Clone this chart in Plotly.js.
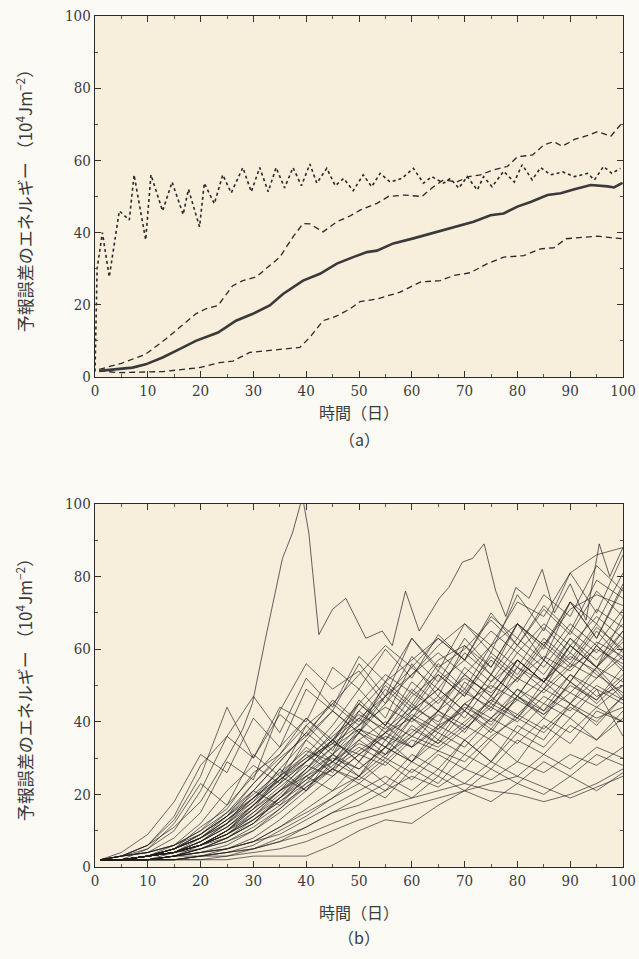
<!DOCTYPE html>
<html>
<head>
<meta charset="utf-8">
<script src="https://cdn.plot.ly/plotly-3.0.1.min.js"></script>
<style>
  html, body { margin: 0; padding: 0; background: #fbfaf5; }
  #chart { width: 639px; height: 959px; }
</style>
</head>
<body>
<div id="chart"></div>
<script>
// ---------- Panel (a) ----------
const meanX = [0.8, 7.1, 9.6, 12.8, 16, 19.1, 23.3, 26.7, 29.9, 33.1, 35.6, 39.4, 42.6, 45.8, 48.9, 51.5, 53.4, 56.5, 60.3, 63.5, 66.7, 69.2, 71.7, 74.9, 77.4, 80, 82.5, 85.7, 88.2, 90.8, 93.9, 97.1, 98.3, 99.9];
const meanY = [1.7, 2.6, 3.5, 5.4, 7.7, 10, 12.3, 15.6, 17.5, 19.8, 23, 26.7, 28.6, 31.4, 33.2, 34.6, 35, 37, 38.4, 39.7, 41.1, 42, 43, 44.8, 45.3, 47.2, 48.5, 50.4, 50.9, 52, 53.2, 52.8, 52.5, 53.8];

const upperX = [0.8, 5, 9.6, 13.4, 16, 19.1, 21, 23.3, 26.1, 28, 30.5, 32.4, 35, 37.5, 39.4, 40.7, 43.2, 45.8, 48.3, 50.2, 53.4, 55.6, 58.6, 61.9, 64.1, 66, 68.5, 70.8, 73, 75.5, 78.1, 80, 82.9, 85, 86.9, 88.5, 90.8, 93.3, 95.2, 97.7, 99.6];
const upperY = [2.1, 3.8, 6.3, 10.5, 13.7, 17.5, 18.9, 19.8, 25.3, 26.7, 27.7, 30, 33.2, 38.8, 42.5, 42.4, 40.2, 43, 44.6, 46.2, 48.1, 50, 50.4, 50, 52.7, 54.6, 54, 55.5, 56, 57.4, 58.3, 61, 61.5, 64.3, 65.2, 63.9, 65.8, 66.9, 68, 66.7, 70];

const lowerX = [0.8, 4.6, 12.8, 19.8, 23.6, 26.1, 29.3, 32.4, 35.6, 38.8, 40.7, 43.2, 45.8, 48.3, 50.2, 53.4, 57.8, 59.7, 61.6, 65.4, 67.9, 71.1, 74.3, 77.4, 81.2, 84.4, 86.9, 89.2, 92.7, 95.2, 97.7, 99.9];
const lowerY = [1.7, 1.2, 1.5, 2.6, 4, 4.4, 6.8, 7.2, 7.7, 8.2, 11, 15.6, 16.9, 18.9, 20.9, 21.6, 23.5, 24.9, 26.3, 26.7, 28.1, 28.9, 31.4, 33.2, 33.6, 35.5, 35.8, 38.3, 38.6, 39, 38.6, 38.3];

const dotX = [0, 0.4, 1.4, 2.7, 4.6, 6.5, 7.4, 9.6, 10.6, 12.8, 14.6, 16.7, 17.7, 19.8, 20.7, 22.6, 24.2, 25.8, 28, 29.6, 31.2, 32.8, 34.3, 35.9, 37.5, 39.1, 40.7, 42, 43.9, 45.5, 47.1, 48.9, 50.8, 52.4, 54, 55.9, 58.1, 60.3, 62.2, 63.8, 66, 67.3, 68.9, 70.5, 72.4, 73.6, 75.2, 77.4, 79.4, 80.9, 82.8, 84.4, 86.3, 88.6, 90.8, 93.3, 94.6, 96.3, 97.9, 99.5];
const dotY = [1.5, 30, 40, 27.7, 46, 43.5, 56, 38, 56, 46, 54, 45, 52, 41.6, 53.7, 48, 56, 51, 58, 51.3, 58, 51.3, 58, 52.4, 58, 53, 59, 53.7, 57.8, 53, 55, 51.6, 56, 52.7, 56.4, 54, 55, 57.8, 53.7, 55.5, 53.7, 55, 52.3, 55.5, 51.8, 55.5, 52.7, 57, 54, 58.8, 54.6, 58, 56, 56.8, 55.5, 56.4, 54.6, 58.3, 56.4, 57.8];

// ---------- Panel (b): ensemble members ----------
const days = [1, 5, 10, 15, 20, 25, 30, 35, 40, 45, 50, 55, 60, 65, 70, 75, 80, 85, 90, 95, 100];
const members = [
  [2,3,6,14,28,36,30,44,40,55,49,60,52,64,57,70,61,72,65,79,74],
  [2,4,9,18,31,26,41,33,49,43,56,47,63,54,67,59,75,65,81,70,86],
  [2,3,5,10,21,36,47,37,52,44,58,51,63,55,60,68,61,71,64,76,69],
  [2,3,4,8,15,29,24,43,56,49,54,45,58,51,63,55,67,60,73,63,78],
  [2,2,5,12,23,17,31,25,39,32,45,39,51,45,53,47,57,51,61,55,63],
  [2,2,3,5,11,16,26,31,41,34,46,39,48,43,55,49,59,53,63,57,65],
  [2,2,3,6,12,21,28,23,35,29,38,33,43,49,43,53,47,57,51,61,54],
  [2,2,3,4,8,13,18,27,21,31,25,35,29,39,43,37,47,41,51,45,52],
  [2,2,3,5,9,14,23,31,39,45,39,49,43,53,47,59,53,63,57,67,59],
  [2,2,3,4,7,12,21,29,37,31,43,37,47,53,47,57,51,61,55,65,57],
  [2,2,2,3,6,10,16,25,33,27,37,31,41,35,45,39,49,43,53,47,50],
  [2,2,3,4,6,9,14,21,27,35,29,39,33,43,37,47,41,51,45,55,47],
  [2,2,3,5,8,14,21,17,25,21,29,23,31,27,35,29,37,33,41,35,43],
  [2,2,3,4,7,11,17,24,31,26,35,30,39,34,43,38,47,42,51,46,55],
  [2,2,3,5,9,15,23,30,36,43,37,51,45,56,49,61,55,66,59,71,66],
  [2,2,2,4,6,10,15,21,25,29,25,33,29,37,33,41,37,45,41,49,45],
  [2,2,3,4,6,10,17,25,31,39,49,41,56,47,61,53,67,57,73,63,77],
  [2,2,2,3,5,8,12,19,26,33,41,35,45,39,51,45,57,51,63,55,69],
  [2,2,3,5,8,12,19,25,21,27,23,29,24,31,27,35,29,39,34,43,40],
  [2,2,2,3,4,6,10,16,23,31,39,47,55,49,59,53,63,57,67,61,71],
  [2,2,2,3,4,5,8,13,19,25,31,37,43,49,43,53,47,57,51,61,55],
  [2,2,2,2,3,5,7,11,16,21,25,21,29,25,35,29,39,35,45,39,47],
  [2,2,2,3,4,5,7,11,15,19,23,19,27,23,31,27,35,31,39,35,41],
  [2,2,2,2,3,4,6,10,14,19,25,31,37,43,49,43,55,49,61,55,65],
  [2,2,2,3,4,5,7,9,13,17,21,25,21,27,23,29,25,31,27,33,30],
  [2,2,2,2,3,4,5,7,11,15,19,23,19,25,21,27,23,29,25,31,28],
  [2,2,2,2,2,2,3,3,3,6,10,13,12,17,21,18,23,20,25,21,26],
  [2,2,2,2,2,3,4,5,7,10,13,15,17,19,21,23,25,22,19,22,25],
  [2,2,2,2,3,3,5,7,9,12,15,17,19,21,23,21,20,18,20,23,27],
  [2,2,2,3,3,4,5,8,11,15,17,21,25,22,27,24,29,26,31,28,33],
  [2,2,3,4,6,9,15,21,29,37,45,53,48,57,61,55,67,61,73,67,81],
  [2,2,3,4,6,8,12,19,27,35,43,51,57,63,57,69,63,75,69,83,76],
  [2,2,3,4,5,7,10,15,21,29,37,45,53,61,67,61,73,69,81,86,88],
  [2,3,4,6,10,15,21,29,37,45,53,61,55,63,57,65,59,67,61,69,63],
  [2,2,3,4,7,11,17,23,29,35,41,47,53,59,53,61,67,61,71,75,72],
  [2,2,3,5,8,13,19,27,35,43,37,47,41,51,57,51,61,55,65,59,67],
  [2,3,4,6,10,17,25,33,41,35,45,39,49,43,53,47,57,51,61,55,62],
  [2,2,3,4,6,9,13,19,25,31,37,33,41,47,41,51,57,51,59,53,48],
  [2,2,3,5,8,12,17,23,29,35,29,37,41,37,45,41,49,45,53,49,36],
  [2,2,3,4,6,10,14,19,24,29,34,31,36,33,39,35,42,38,45,41,44],
  [2,3,6,13,25,44,30,42,36,46,40,50,44,54,48,58,52,62,56,66,60],
  [2,2,3,4,7,12,18,24,30,34,31,36,33,38,44,40,46,42,48,44,50],
  [2,2,3,4,6,9,14,20,27,33,38,35,42,38,45,50,46,52,48,55,51],
  [2,2,2,3,5,8,13,18,24,30,27,33,38,34,40,46,42,49,45,52,58],
  [2,2,3,5,9,14,20,26,32,29,35,40,36,43,39,46,52,48,55,60,56],
  [2,2,3,4,6,10,16,22,28,25,31,28,35,32,38,44,40,47,43,50,46],
  [2,2,2,3,5,7,11,16,22,28,33,29,36,42,38,45,41,49,56,52,60],
  [2,2,3,4,7,11,16,21,26,31,27,33,29,35,31,38,34,41,37,44,40],
  [2,2,3,5,8,13,19,25,30,36,42,38,44,40,48,44,52,58,54,62,58],
  [2,2,3,4,6,9,13,18,23,27,24,30,26,32,29,36,41,37,44,40,47],
  [2,2,2,3,5,8,12,17,22,27,32,37,33,39,35,41,47,43,50,46,53],
  [2,3,4,6,9,14,19,24,29,34,39,44,40,46,52,48,55,51,58,54,46]
];
// the member that shoots past the top of the frame
const outlierX = [1, 5, 10, 15, 20, 25, 28, 29.8, 32.3, 35.5, 37.4, 39.3, 40.5, 42.4, 45, 47.5, 51.3, 54.4, 56.3, 58.8, 61.4, 65.2, 67, 69.6, 71.5, 73.7, 75.9, 77.8, 79.7, 82.2, 84.7, 87, 90, 93, 95.5, 97.5, 100];
const outlierY = [2, 3, 6, 11, 18, 30, 38, 45, 63, 85, 92, 102, 92, 64, 71, 74, 63, 65, 61, 76, 65, 74, 77, 84, 85, 89, 76, 69, 77, 74, 82, 70, 78, 68, 89, 80, 88];

const xTickVals = [0, 10, 20, 30, 40, 50, 60, 70, 80, 90, 100];
const yTickVals = [0, 20, 40, 60, 80, 100];
const xTitle = '時間（日）';
const yTitle = '予報誤差のエネルギー （10<sup>4</sup>Jm<sup>−2</sup>）';
const panelLabels = ['（a）', '（b）'];

// ---------- Build traces ----------
const ink = '#2a2a2a';
const traces = [
  { x: dotX, y: dotY, mode: 'lines', line: { color: ink, width: 1.6, dash: 'dot' }, xaxis: 'x', yaxis: 'y', hoverinfo: 'skip' },
  { x: upperX, y: upperY, mode: 'lines', line: { color: ink, width: 1.3, dash: '6px,4px' }, xaxis: 'x', yaxis: 'y', hoverinfo: 'skip' },
  { x: lowerX, y: lowerY, mode: 'lines', line: { color: ink, width: 1.3, dash: '6px,4px' }, xaxis: 'x', yaxis: 'y', hoverinfo: 'skip' },
  { x: meanX, y: meanY, mode: 'lines', line: { color: '#3a3a3a', width: 2.6 }, xaxis: 'x', yaxis: 'y', hoverinfo: 'skip' }
];
members.forEach(m => traces.push({
  x: days, y: m, mode: 'lines', line: { color: 'rgba(28,28,28,0.85)', width: 0.75 },
  xaxis: 'x2', yaxis: 'y2', hoverinfo: 'skip'
}));
traces.push({ x: outlierX, y: outlierY, mode: 'lines', line: { color: 'rgba(28,28,28,0.9)', width: 0.75 }, xaxis: 'x2', yaxis: 'y2', hoverinfo: 'skip' });

const serifFam = 'DejaVu Serif Condensed, Liberation Serif, serif';
const cjkFam = 'Noto Sans CJK JP, sans-serif';
function xAxis(anchor, standoff) {
  return {
    anchor: anchor, domain: [0, 1], range: [0, 100],
    tickvals: xTickVals, ticks: 'inside', ticklen: 6, tickwidth: 1, tickcolor: '#333',
    minor: { dtick: 5, ticks: 'inside', ticklen: 3, tickcolor: '#555' },
    showline: true, linecolor: '#2a2a2a', linewidth: 1.2, mirror: 'ticks',
    showgrid: false, zeroline: false,
    tickfont: { family: serifFam, size: 15, color: '#3a3a3a' },
    title: { text: xTitle, standoff: standoff, font: { family: cjkFam, size: 16, color: '#3a3a3a' } }
  };
}
function yAxis(anchor, domain) {
  return {
    anchor: anchor, domain: domain, range: [0, 100],
    tickvals: yTickVals, ticks: 'inside', ticklen: 6, tickwidth: 1, tickcolor: '#333',
    minor: { dtick: 10, ticks: 'inside', ticklen: 3, tickcolor: '#555' },
    showline: true, linecolor: '#2a2a2a', linewidth: 1.2, mirror: 'ticks',
    showgrid: false, zeroline: false,
    tickfont: { family: serifFam, size: 15, color: '#3a3a3a' },
    title: { text: yTitle, standoff: 28, font: { family: cjkFam, size: 17, color: '#3a3a3a' } }
  };
}

const layout = {
  width: 639, height: 959,
  margin: { l: 95, r: 16, t: 16, b: 92 },
  paper_bgcolor: '#fbfaf5',
  plot_bgcolor: '#f7eedc',
  showlegend: false,
  xaxis: xAxis('y', 8),
  yaxis: yAxis('x', [0.5758, 1]),
  xaxis2: xAxis('y2', 18),
  yaxis2: yAxis('x2', [0, 0.4266]),
  annotations: [
    { text: panelLabels[0], xref: 'paper', yref: 'paper', x: 0.5, y: 0.5758, yshift: -62, showarrow: false, font: { family: cjkFam, size: 16, color: '#3a3a3a' } },
    { text: panelLabels[1], xref: 'paper', yref: 'paper', x: 0.5, y: 0, yshift: -84, showarrow: false, font: { family: cjkFam, size: 16, color: '#3a3a3a' } }
  ]
};

Plotly.newPlot('chart', traces, layout, { staticPlot: true, displayModeBar: false });
</script>
</body>
</html>
